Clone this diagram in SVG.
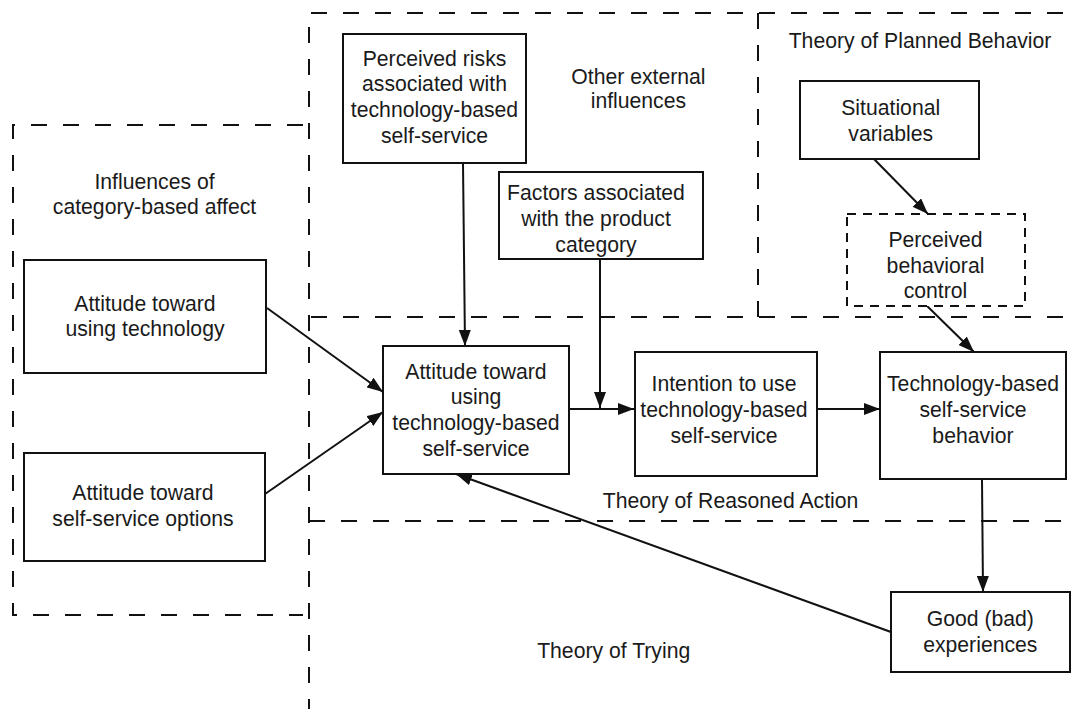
<svg xmlns="http://www.w3.org/2000/svg" width="1075" height="709" viewBox="0 0 1075 709">
<style>
.bg{fill:#fff}
.box{fill:#fff;stroke:#111;stroke-width:2}
.dbox{fill:#fff;stroke:#111;stroke-width:2;stroke-dasharray:9 7}
.region{fill:none;stroke:#111;stroke-width:2;stroke-dasharray:16 16}
.conn{fill:none;stroke:#111;stroke-width:2;marker-end:url(#arr)}
.line{fill:none;stroke:#111;stroke-width:2}
text{font-family:"Liberation Sans",Arial,sans-serif;font-size:21.2px;fill:#1a1a1a;text-anchor:middle}
</style>
<defs>
<marker id="arr" markerUnits="userSpaceOnUse" markerWidth="16" markerHeight="12" refX="16" refY="6" orient="auto">
<path d="M0,0 L16,6 L0,12 z" fill="#111"/>
</marker>
</defs>
<rect class="bg" x="0" y="0" width="1075" height="709"/>
<g id="regions">
<path class="region" d="M1063,13 H309 V709"/>
<path class="region" d="M758,13 V317"/>
<path class="region" d="M1063,317 H309"/>
<path class="region" d="M309,521 H1063"/>
<path class="region" d="M303,125 H13 V615 H303"/>
<text x="154.5" y="189.2">Influences of</text>
<text x="154.5" y="213.5">category-based affect</text>
<text x="638.4" y="83.5">Other external</text>
<text x="638.4" y="108.2">influences</text>
<text x="920" y="47.5">Theory of Planned Behavior</text>
<text x="730.5" y="508.2">Theory of Reasoned Action</text>
<text x="613.7" y="657.5">Theory of Trying</text>
</g>
<g id="connectors">
<path class="conn" d="M463,163 L465,346"/>
<path class="line" d="M600,259 L600,400"/>
<path class="conn" d="M600,392 L600,408"/>
<path class="conn" d="M569,409 L634,409"/>
<path class="conn" d="M817,409 L880,409"/>
<path class="conn" d="M267,308 L383,392"/>
<path class="conn" d="M265,494 L383,412"/>
<path class="conn" d="M874,159 L928,214"/>
<path class="conn" d="M924,303 L974,352"/>
<path class="conn" d="M982,479 L983,592"/>
<path class="conn" d="M891,632 L456,474"/>
</g>
<g id="n-risks">
<rect class="box" x="343" y="34" width="183" height="129"/>
<text x="434.5" y="65.8">Perceived risks</text>
<text x="434.5" y="90.8">associated with</text>
<text x="434.5" y="116.5">technology-based</text>
<text x="434.5" y="142.5">self-service</text>
</g>
<g id="n-factors">
<rect class="box" x="499" y="172" width="204" height="87"/>
<text x="596" y="200.2">Factors associated</text>
<text x="596" y="225.8">with the product</text>
<text x="596" y="251.5">category</text>
</g>
<g id="n-situational">
<rect class="box" x="800" y="81" width="179" height="78"/>
<text x="890.7" y="114.8">Situational</text>
<text x="890.7" y="140.8">variables</text>
</g>
<g id="n-pbc">
<rect class="dbox" x="847" y="214" width="178" height="92"/>
<text x="935.5" y="246.8">Perceived</text>
<text x="935.5" y="272.5">behavioral</text>
<text x="935.5" y="297.5">control</text>
</g>
<g id="n-att-tech">
<rect class="box" x="24" y="260" width="242" height="113"/>
<text x="145" y="310.8">Attitude toward</text>
<text x="145" y="335.8">using technology</text>
</g>
<g id="n-att-self">
<rect class="box" x="24" y="453" width="241" height="108"/>
<text x="143" y="500.2">Attitude toward</text>
<text x="143" y="525.8">self-service options</text>
</g>
<g id="n-attitude">
<rect class="box" x="383" y="346" width="186" height="128"/>
<text x="476" y="379.2">Attitude toward</text>
<text x="476" y="404.2">using</text>
<text x="476" y="430.2">technology-based</text>
<text x="476" y="455.8">self-service</text>
</g>
<g id="n-intention">
<rect class="box" x="635" y="352" width="182" height="124"/>
<text x="724" y="390.8">Intention to use</text>
<text x="724" y="416.8">technology-based</text>
<text x="724" y="442.5">self-service</text>
</g>
<g id="n-behavior">
<rect class="box" x="880" y="352" width="186" height="127"/>
<text x="973" y="390.8">Technology-based</text>
<text x="973" y="416.8">self-service</text>
<text x="973" y="442.5">behavior</text>
</g>
<g id="n-good">
<rect class="box" x="891" y="592" width="179" height="80"/>
<text x="980.3" y="625.8">Good (bad)</text>
<text x="980.3" y="651.5">experiences</text>
</g>
</svg>
